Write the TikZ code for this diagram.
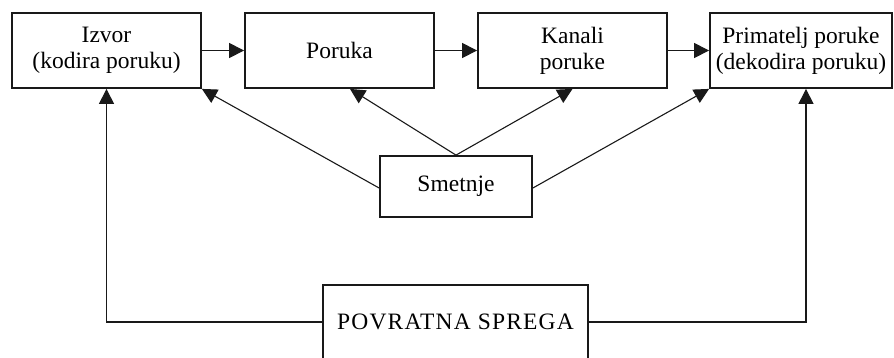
\documentclass[tikz,border=0pt]{standalone}
\usepackage{fontspec}
\setmainfont{Liberation Serif}
\usetikzlibrary{arrows.meta}
\begin{document}
\begin{tikzpicture}[x=1pt,y=-1pt,
  box/.style={draw=black!90, line width=1.8pt, align=center, inner sep=0pt,
    font=\fontsize{23.5}{26}\selectfont},
  conn/.style={draw=black!90, line width=1.1pt},
  arr/.style={conn, -{Triangle[length=15pt,width=15pt]}}]
\useasboundingbox (0,0) rectangle (894,357);
\clip (0,0) rectangle (894,357);
\node[box, minimum width=189pt, minimum height=75pt] (izv) at (106.5,50.5) {Izvor\\(kodira poruku)};
\node[box, minimum width=189pt, minimum height=75pt] (por) at (339.5,50.5) {Poruka};
\node[box, minimum width=189pt, minimum height=75pt] (kan) at (572.5,50.5) {Kanali\\poruke};
\node[box, minimum width=182pt, minimum height=75pt] (pri) at (801,50.5) {Primatelj poruke\\(dekodira poruku)};
\node[box, minimum width=152pt, minimum height=61pt] (sme) at (456,186.5) {Smetnje};
\node[box, minimum width=265pt, minimum height=74pt] (pov) at (455.5,322) {\addfontfeature{LetterSpace=5}POVRATNA SPREGA};
\draw[arr] (izv.east) -- (por.west);
\draw[arr] (por.east) -- (kan.west);
\draw[arr] (kan.east) -- (pri.west);
\draw[arr] ([yshift=-1.5pt]sme.west) -- (izv.south east);
\draw[arr] (sme.north) -- ([xshift=10.5pt]por.south);
\draw[arr] (sme.north) -- (kan.south);
\draw[arr] ([yshift=-1.5pt]sme.east) -- (pri.south west);
\draw[arr] (pov.west) -| (izv.south);
\draw[arr] (pov.east) -| ([xshift=5pt]pri.south);
\end{tikzpicture}
\end{document}
